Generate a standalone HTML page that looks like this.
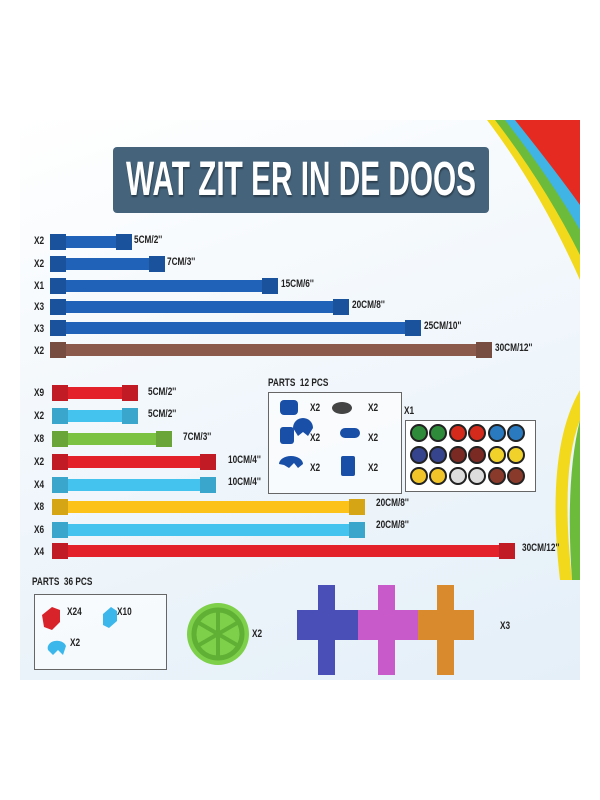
<!DOCTYPE html>
<html><head><style>
body{margin:0;width:600px;height:800px;background:#fff;position:relative;overflow:hidden;font-family:"Liberation Sans",sans-serif}
.bg{position:absolute;left:20px;top:120px;width:560px;height:560px;background:linear-gradient(160deg,#fff 0%,#f3f8fc 40%,#e4eff8 100%)}
.t{position:absolute;font-weight:bold;font-size:11px;transform:scaleX(.75);transform-origin:left center;color:#222;white-space:nowrap}
.bar{position:absolute;height:12px;border-radius:1px}
.bar:before,.bar:after{content:"";position:absolute;top:-2px;width:16px;height:16px;background:inherit;filter:brightness(.85)}
.bar:before{left:0}.bar:after{right:0}
.box{position:absolute;border:1px solid #666;background:rgba(255,255,255,.6)}
</style></head><body>
<div class="bg"></div>
<svg style="position:absolute;left:0;top:0" width="600" height="800">
<path d="M487 120 Q540 190 580 280 L580 120Z" fill="#f2d91c"/>
<path d="M495 120 Q545 185 580 255 L580 120Z" fill="#6cbb3a"/>
<path d="M505 120 Q550 178 580 230 L580 120Z" fill="#3fb4e5"/>
<path d="M515 120 Q555 170 580 205 L580 120Z" fill="#e52a22"/>
<path d="M580 390 Q545 450 560 580 L572 580 Q560 470 580 420Z" fill="#f2d91c"/>
<path d="M580 420 Q565 480 572 580 L580 580Z" fill="#6cbb3a"/>
</svg>
<div style="position:absolute;left:113px;top:147px;width:376px;height:66px;background:#45647c;border-radius:4px"></div>
<div style="position:absolute;left:301px;top:147px;height:66px;line-height:66px;color:#fff;font-weight:bold;font-size:48px;white-space:nowrap;transform:translateX(-50%) scaleX(.62);text-shadow:1px 2px 2px rgba(0,0,0,.4)">WAT ZIT ER IN DE DOOS</div>

<div class="t" style="left:34px;top:235px">X2</div><div class="bar" style="left:50px;top:236px;width:82px;background:#1f62b8"></div><div class="t" style="left:134px;top:234px">5CM/2''</div>
<div class="t" style="left:34px;top:258px">X2</div><div class="bar" style="left:50px;top:258px;width:115px;background:#1f62b8"></div><div class="t" style="left:167px;top:256px">7CM/3''</div>
<div class="t" style="left:34px;top:280px">X1</div><div class="bar" style="left:50px;top:280px;width:228px;background:#1f62b8"></div><div class="t" style="left:281px;top:278px">15CM/6''</div>
<div class="t" style="left:34px;top:301px">X3</div><div class="bar" style="left:50px;top:301px;width:299px;background:#1f62b8"></div><div class="t" style="left:352px;top:299px">20CM/8''</div>
<div class="t" style="left:34px;top:323px">X3</div><div class="bar" style="left:50px;top:322px;width:371px;background:#1f62b8"></div><div class="t" style="left:424px;top:320px">25CM/10''</div>
<div class="t" style="left:34px;top:345px">X2</div><div class="bar" style="left:50px;top:344px;width:442px;background:#8c5a4c"></div><div class="t" style="left:495px;top:342px">30CM/12''</div>

<div class="t" style="left:34px;top:387px">X9</div><div class="bar" style="left:52px;top:387px;width:86px;background:#e3212b"></div><div class="t" style="left:148px;top:386px">5CM/2''</div>
<div class="t" style="left:34px;top:410px">X2</div><div class="bar" style="left:52px;top:410px;width:86px;background:#45c3ef"></div><div class="t" style="left:148px;top:408px">5CM/2''</div>
<div class="t" style="left:34px;top:433px">X8</div><div class="bar" style="left:52px;top:433px;width:120px;background:#7cc242"></div><div class="t" style="left:183px;top:431px">7CM/3''</div>
<div class="t" style="left:34px;top:456px">X2</div><div class="bar" style="left:52px;top:456px;width:164px;background:#e3212b"></div><div class="t" style="left:228px;top:454px">10CM/4''</div>
<div class="t" style="left:34px;top:479px">X4</div><div class="bar" style="left:52px;top:479px;width:164px;background:#45c3ef"></div><div class="t" style="left:228px;top:476px">10CM/4''</div>
<div class="t" style="left:34px;top:501px">X8</div><div class="bar" style="left:52px;top:501px;width:313px;background:#fcc21a"></div><div class="t" style="left:376px;top:497px">20CM/8''</div>
<div class="t" style="left:34px;top:524px">X6</div><div class="bar" style="left:52px;top:524px;width:313px;background:#45c3ef"></div><div class="t" style="left:376px;top:519px">20CM/8''</div>
<div class="t" style="left:34px;top:546px">X4</div><div class="bar" style="left:52px;top:545px;width:463px;background:#e3212b"></div><div class="t" style="left:522px;top:542px">30CM/12''</div>

<div class="t" style="left:268px;top:377px">PARTS&nbsp; 12 PCS</div>
<div class="box" style="left:268px;top:392px;width:132px;height:100px"></div>
<svg style="position:absolute;left:0;top:0" width="600" height="800">
<g fill="#1a4fa8"><rect x="280" y="400" width="18" height="15" rx="4"/><rect x="280" y="427" width="14" height="17" rx="3"/><path d="M293 428 a10 10 0 0 1 20 0 l-5 8 -5 -4 -5 4z"/><rect x="340" y="428" width="20" height="10" rx="5"/><path d="M279 464 a12 8 0 0 1 24 0 l-5 4 -4 -5 -5 5 -5 -3z"/><rect x="341" y="456" width="14" height="20" rx="2"/></g>
<ellipse cx="342" cy="408" rx="10" ry="6" fill="#444"/>
</svg>
<div class="t" style="left:310px;top:402px">X2</div><div class="t" style="left:368px;top:402px">X2</div>
<div class="t" style="left:310px;top:432px">X2</div><div class="t" style="left:368px;top:432px">X2</div>
<div class="t" style="left:310px;top:462px">X2</div><div class="t" style="left:368px;top:462px">X2</div>
<div class="t" style="left:404px;top:405px">X1</div>
<div class="box" style="left:405px;top:420px;width:129px;height:70px;background:#fff"></div>
<svg style="position:absolute;left:0;top:0" width="600" height="800">
<g stroke="#222" stroke-width="2">
<circle cx="419" cy="433" r="8" fill="#2e8b3a"/><circle cx="438" cy="433" r="8" fill="#2e8b3a"/><circle cx="458" cy="433" r="8" fill="#d42a1c"/><circle cx="477" cy="433" r="8" fill="#d42a1c"/><circle cx="497" cy="433" r="8" fill="#2a7ac0"/><circle cx="516" cy="433" r="8" fill="#2a7ac0"/>
<circle cx="419" cy="455" r="8" fill="#35448c"/><circle cx="438" cy="455" r="8" fill="#35448c"/><circle cx="458" cy="455" r="8" fill="#7a2a22"/><circle cx="477" cy="455" r="8" fill="#7a2a22"/><circle cx="497" cy="455" r="8" fill="#f1d22a"/><circle cx="516" cy="455" r="8" fill="#f1d22a"/>
<circle cx="419" cy="476" r="8" fill="#f1c52a"/><circle cx="438" cy="476" r="8" fill="#f1c52a"/><circle cx="458" cy="476" r="8" fill="#ddd"/><circle cx="477" cy="476" r="8" fill="#ddd"/><circle cx="497" cy="476" r="8" fill="#8a3a2a"/><circle cx="516" cy="476" r="8" fill="#8a3a2a"/>
</g></svg>

<div class="t" style="left:32px;top:576px">PARTS&nbsp; 36 PCS</div>
<div class="box" style="left:34px;top:594px;width:131px;height:74px"></div>
<svg style="position:absolute;left:0;top:0" width="600" height="800">
<path d="M42 615 l10 -8 8 3 0 12 -8 8 -8 -3z" fill="#d9232b"/>
<path d="M103 614 l8 -7 6 4 0 10 -8 7 -6 -3z" fill="#3cb7ec"/>
<path d="M48 650 a9 7 0 0 1 18 -4 l-3 9 -5 -5 -5 5z" fill="#3cb7ec"/>
<circle cx="218" cy="634" r="31" fill="#7ed04a"/><circle cx="218" cy="634" r="24" fill="none" stroke="#5fb034" stroke-width="5"/>
<g stroke="#5fb034" stroke-width="4"><line x1="218" y1="612" x2="218" y2="656"/><line x1="199" y1="623" x2="237" y2="645"/><line x1="199" y1="645" x2="237" y2="623"/></g>
<g fill="#4a4fb8"><rect x="318" y="585" width="17" height="90"/><rect x="297" y="610" width="61" height="30"/></g>
<g fill="#c95ac9"><rect x="378" y="585" width="17" height="90"/><rect x="358" y="610" width="60" height="30"/></g>
<g fill="#d98a2c"><rect x="437" y="585" width="17" height="90"/><rect x="418" y="610" width="56" height="30"/></g>
</svg>
<div class="t" style="left:67px;top:606px">X24</div><div class="t" style="left:117px;top:606px">X10</div>
<div class="t" style="left:70px;top:637px">X2</div>
<div class="t" style="left:252px;top:628px">X2</div>
<div class="t" style="left:500px;top:620px">X3</div>
</body></html>
